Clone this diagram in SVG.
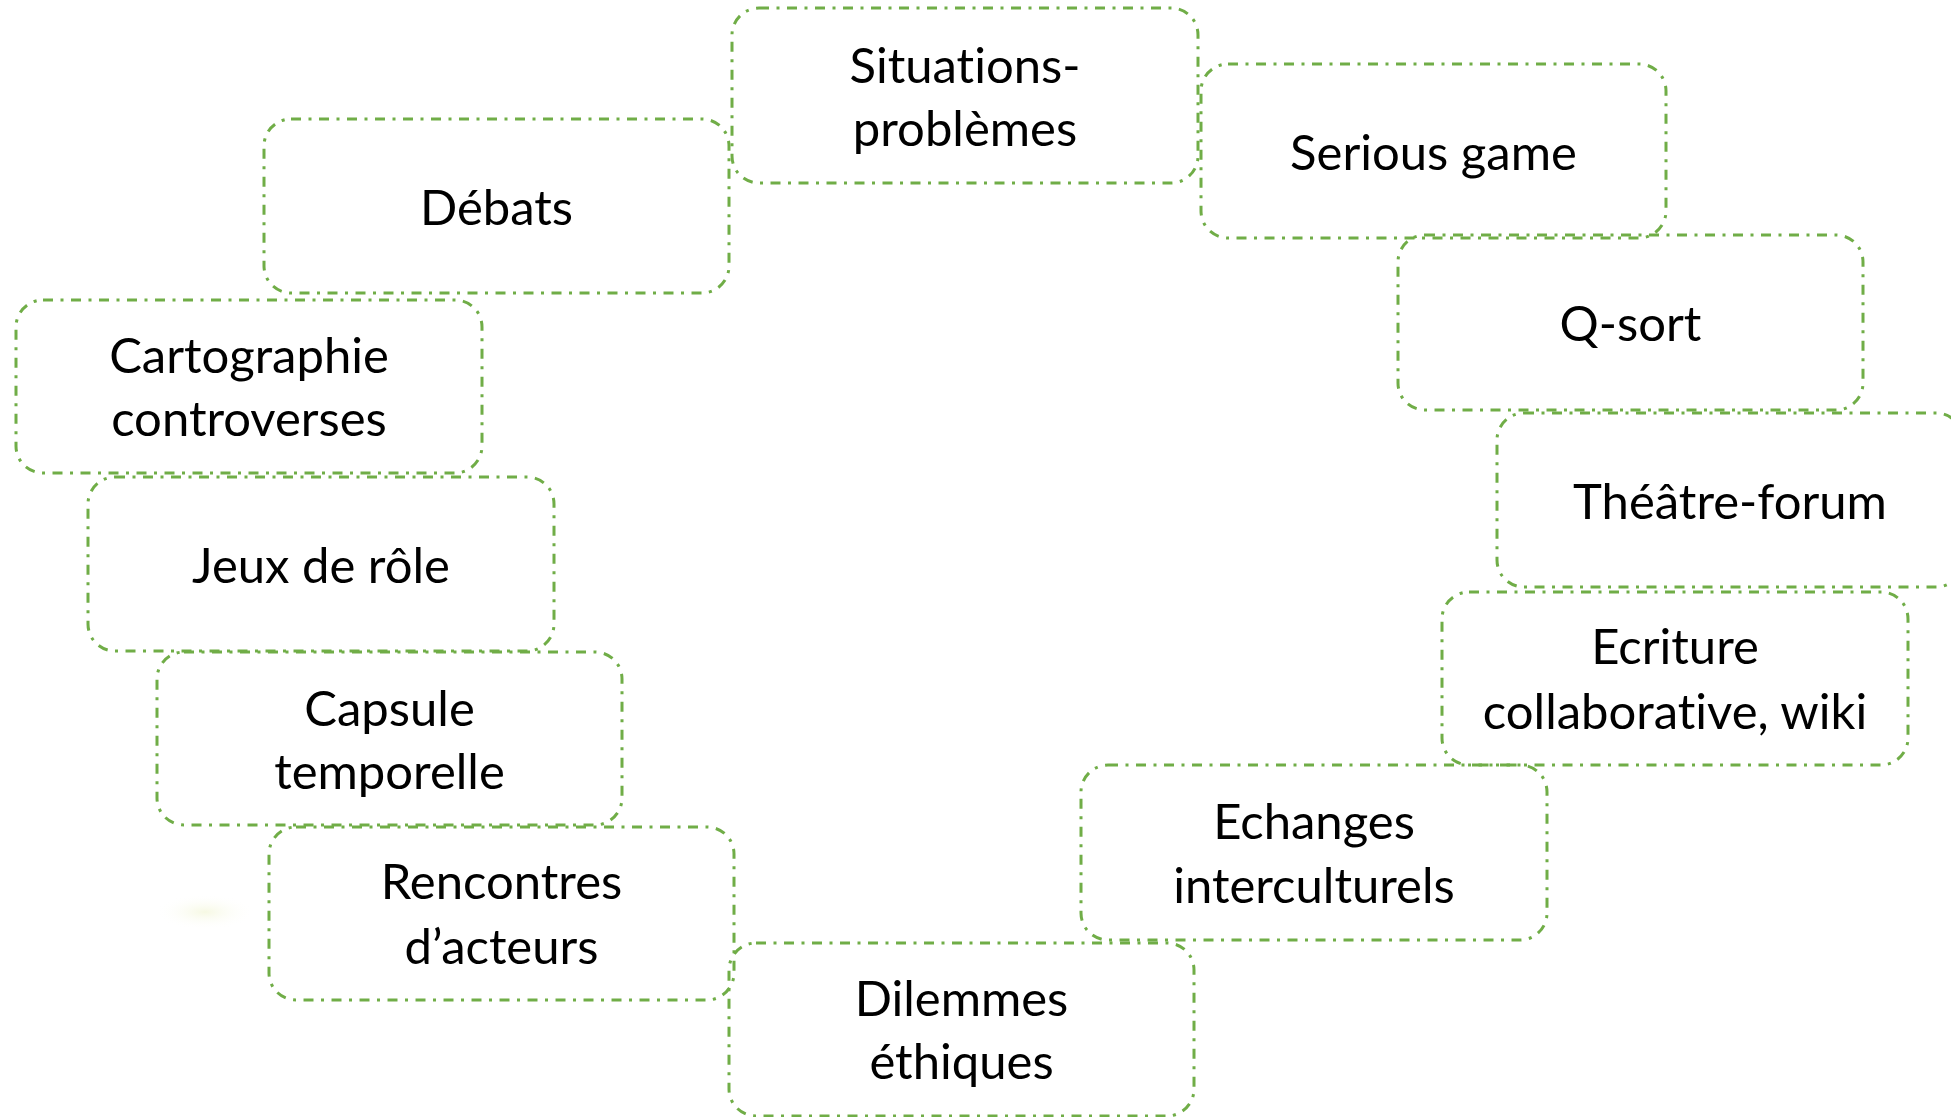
<svg xmlns="http://www.w3.org/2000/svg" width="1951" height="1117" viewBox="0 0 1951 1117">
<defs>
<style>
.box{fill:none;stroke:#70AD47;stroke-width:3;stroke-dasharray:10 7.5 3 7.5}
.t{font-family:Lato,"Open Sans",sans-serif;font-size:49px;fill:#000;text-anchor:middle;font-variant-ligatures:none}
</style>
<radialGradient id="blob"><stop offset="0" stop-color="#f4f7dc" stop-opacity="0.8"/><stop offset="1" stop-color="#ffffff" stop-opacity="0"/></radialGradient>
</defs>
<rect width="1951" height="1117" fill="#fff"/>
<ellipse cx="205" cy="912" rx="50" ry="18" fill="url(#blob)"/>
<g id="connectors"></g>
<g id="n-situations"><rect class="box" x="732" y="8" width="466" height="175" rx="27"/><text class="t" x="965" y="83">Situations-</text><text class="t" x="965" y="146">problèmes</text></g>
<g id="n-serious"><rect class="box" x="1201" y="64" width="465" height="174" rx="27"/><text class="t" x="1433.5" y="170">Serious game</text></g>
<g id="n-debats"><rect class="box" x="264" y="119" width="465" height="174" rx="27"/><text class="t" x="496.5" y="225">Débats</text></g>
<g id="n-qsort"><rect class="box" x="1398" y="235" width="465" height="175" rx="27"/><text class="t" x="1630.5" y="341">Q-sort</text></g>
<g id="n-cartographie"><rect class="box" x="16" y="300" width="466" height="173" rx="27"/><text class="t" x="249" y="373">Cartographie</text><text class="t" x="249" y="436">controverses</text></g>
<g id="n-theatre"><rect class="box" x="1497" y="413" width="466" height="174" rx="27"/><text class="t" x="1730" y="519">Théâtre-forum</text></g>
<g id="n-jeux"><rect class="box" x="88" y="477" width="466" height="174" rx="27"/><text class="t" x="321" y="583">Jeux de rôle</text></g>
<g id="n-ecriture"><rect class="box" x="1442" y="592" width="466" height="173" rx="27"/><text class="t" x="1675" y="664">Ecriture</text><text class="t" x="1675" y="729">collaborative, wiki</text></g>
<g id="n-capsule"><rect class="box" x="157" y="652" width="465" height="173" rx="27"/><text class="t" x="389.5" y="726">Capsule</text><text class="t" x="389.5" y="789">temporelle</text></g>
<g id="n-echanges"><rect class="box" x="1081" y="765" width="466" height="175" rx="27"/><text class="t" x="1314" y="839">Echanges</text><text class="t" x="1314" y="903">interculturels</text></g>
<g id="n-rencontres"><rect class="box" x="269" y="827" width="465" height="173" rx="27"/><text class="t" x="501.5" y="899">Rencontres</text><text class="t" x="501.5" y="964">d’acteurs</text></g>
<g id="n-dilemmes"><rect class="box" x="729" y="943" width="465" height="173" rx="27"/><text class="t" x="961.5" y="1016">Dilemmes</text><text class="t" x="961.5" y="1079">éthiques</text></g>
</svg>
